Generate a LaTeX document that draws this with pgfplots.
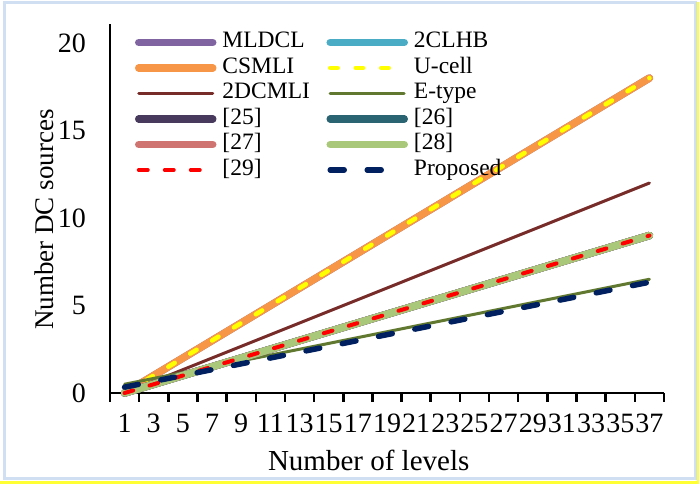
\documentclass[border=0pt]{standalone}
\usepackage{fontspec}
\setmainfont{Liberation Serif}
\usepackage{pgfplots}
\usepackage{pgfplotstable}
\pgfplotsset{compat=1.18}
\definecolor{cMLDCL}{HTML}{8064A2}
\definecolor{cCLHB}{HTML}{4BACC6}
\definecolor{cCSMLI}{HTML}{F79646}
\definecolor{cUcell}{HTML}{FFFF00}
\definecolor{cDCMLI}{HTML}{772C2A}
\definecolor{cEtype}{HTML}{60782F}
\definecolor{cR25}{HTML}{473A5C}
\definecolor{cR26}{HTML}{2A6372}
\definecolor{cR27}{HTML}{CF7470}
\definecolor{cR28}{HTML}{AAC87A}
\definecolor{cR29}{HTML}{FF0000}
\definecolor{cProp}{HTML}{002060}
\definecolor{borderblue}{HTML}{D0DFF1}
\definecolor{borderyellow}{HTML}{FFFF33}

% i = category index (levels 1,3,...,37)
\pgfplotstableread{
i cs dcm q e p
0 0 0 0 0.5 0.333
1 1 0.667 0.5 0.833 0.667
2 2 1.333 1 1.167 1
3 3 2 1.5 1.5 1.333
4 4 2.667 2 1.833 1.667
5 5 3.333 2.5 2.167 2
6 6 4 3 2.5 2.333
7 7 4.667 3.5 2.833 2.667
8 8 5.333 4 3.167 3
9 9 6 4.5 3.5 3.333
10 10 6.667 5 3.833 3.667
11 11 7.333 5.5 4.167 4
12 12 8 6 4.5 4.333
13 13 8.667 6.5 4.833 4.667
14 14 9.333 7 5.167 5
15 15 10 7.5 5.5 5.333
16 16 10.667 8 5.833 5.667
17 17 11.333 8.5 6.167 6
18 18 12 9 6.5 6.333
}\datatab

\begin{document}
\begin{tikzpicture}
\path[use as bounding box] (0,0) rectangle (699pt,484pt);
\fill[borderyellow] (0pt,0pt) rectangle (699pt,3pt);
\fill[borderyellow] (696.5pt,0pt) rectangle (699pt,482pt);
\draw[color=borderblue, line width=3pt] (4.5pt,5.5pt) rectangle (695pt,481.5pt);
\begin{axis}[
  at={(110pt,91pt)}, anchor=south west,
  scale only axis, width=554pt, height=369pt,
  xmin=-0.5, xmax=18.5, ymin=0, ymax=21.09,
  axis lines*=left,
  axis line style={line width=2.5pt, black},
  clip=false,
  xtick={0,...,18},
  xticklabels={1,3,5,7,9,11,13,15,17,19,21,23,25,27,29,31,33,35,37},
  minor xtick={-0.5,0.5,...,18.5},
  major tick length=0pt, minor tick length=9pt, tick align=outside,
  minor tick style={line width=2.5pt, black},
  ytick={0,5,10,15,20}, ytick style={draw=none},
  /pgf/number format/assume math mode=true,
  xticklabel style={font=\fontsize{28pt}{30pt}\selectfont, anchor=base, yshift=-40pt, inner sep=0pt},
  yticklabel style={font=\fontsize{28pt}{30pt}\selectfont, anchor=east, inner sep=0pt, xshift=-24pt},
  xlabel={Number of levels},
  xlabel style={at={([yshift=-77.7pt]axis description cs:0.467,0)}, anchor=base, font=\fontsize{29pt}{31pt}\selectfont, inner sep=0pt},
  ylabel={Number DC sources},
  ylabel style={at={([xshift=-56.7pt]axis description cs:0,0.470)}, anchor=base, font=\fontsize{27pt}{29pt}\selectfont, inner sep=0pt},
  no markers,
  every axis plot/.append style={line cap=round, line join=round},
  legend columns=2,
  legend cell align=left,
  legend image code/.code={\draw[#1] (3pt,0pt) -- (77pt,0pt);},
  legend style={at={([xshift=25pt,yshift=-7pt]axis description cs:0,1)}, anchor=north west,
    draw=none, fill=none, inner sep=0pt, outer sep=0pt,
    font=\fontsize{23.5pt}{25pt}\selectfont,
    column sep=6pt, row sep=2.5pt,
    nodes={inner sep=0pt, text height=17pt, text depth=6pt},
    /tikz/every even column/.append style={column sep=16.5pt}},
]
\addplot[color=cMLDCL, line width=7.5pt] table[x=i, y=cs] {\datatab};
\addlegendentry{MLDCL}
\addplot[color=cCLHB, line width=7.5pt] table[x=i, y=q] {\datatab};
\addlegendentry{2CLHB}
\addplot[color=cCSMLI, line width=7.5pt] table[x=i, y=cs] {\datatab};
\addlegendentry{CSMLI}
\addplot[color=cUcell, line width=4.5pt, dash pattern=on 7.5pt off 18pt] table[x=i, y=cs] {\datatab};
\addlegendentry{U-cell}
\addplot[color=cDCMLI, line width=3pt] table[x=i, y=dcm] {\datatab};
\addlegendentry{2DCMLI}
\addplot[color=cEtype, line width=3pt] table[x=i, y=e] {\datatab};
\addlegendentry{E-type}
\addplot[color=cR25, line width=7.5pt] table[x=i, y=q] {\datatab};
\addlegendentry{[25]}
\addplot[color=cR26, line width=7.5pt] table[x=i, y=q] {\datatab};
\addlegendentry{[26]}
\addplot[color=cR27, line width=7.5pt] table[x=i, y=q] {\datatab};
\addlegendentry{[27]}
\addplot[color=cR28, line width=7.5pt] table[x=i, y=q] {\datatab};
\addlegendentry{[28]}
\addplot[color=cR29, line width=4pt, dash pattern=on 9pt off 17pt] table[x=i, y=q] {\datatab};
\addlegendentry{[29]}
\addplot[color=cProp, line width=5.5pt, dash pattern=on 14pt off 23pt] table[x=i, y=p] {\datatab};
\addlegendentry{Proposed}
\end{axis}
\end{tikzpicture}
\end{document}
